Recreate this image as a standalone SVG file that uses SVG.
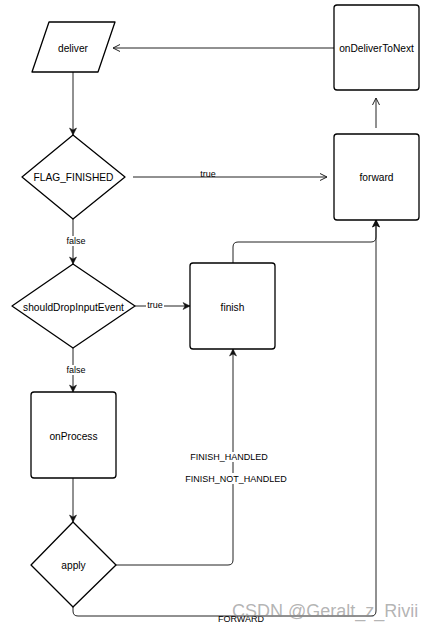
<svg xmlns="http://www.w3.org/2000/svg" width="434" height="630" viewBox="0 0 434 630">
<style>
.node{fill:#fff;stroke:#000;stroke-width:1.3;stroke-linejoin:round}
.lbl{font-family:"Liberation Sans",Arial,sans-serif;font-size:10.2px;fill:#000;text-anchor:middle;dominant-baseline:central}
.elbl{font-family:"Liberation Sans",Arial,sans-serif;font-size:9px;fill:#000;text-anchor:middle;dominant-baseline:central}
.edge{fill:none;stroke:#222;stroke-width:1}
.bg{fill:#fff}
</style>
<defs>
<marker id="open" markerUnits="userSpaceOnUse" markerWidth="10" markerHeight="10" refX="8" refY="4" orient="auto" overflow="visible">
<path d="M1,0.5 L8,4 L1,7.5" fill="none" stroke="#222" stroke-width="1"/>
</marker>
<marker id="block" markerUnits="userSpaceOnUse" markerWidth="10" markerHeight="10" refX="7" refY="3.5" orient="auto" overflow="visible">
<path d="M0,0 L7,3.5 L0,7 L2,3.5 Z" fill="#111" stroke="#111" stroke-width="0.5"/>
</marker>
</defs>
<rect width="434" height="630" fill="#fff"/>
<g id="connectors">
<path class="edge" d="M73,72 L73,135" marker-end="url(#block)"/>
<path class="edge" d="M334,48 L113,48" marker-end="url(#open)"/>
<path class="edge" d="M376,128 L376,98" marker-end="url(#open)"/>
<path class="edge" d="M133,177 L327,177" marker-end="url(#open)"/>
<text class="elbl" x="208" y="174">true</text>
<path class="edge" d="M73,219 L73,264" marker-end="url(#block)"/>
<rect class="bg" x="65" y="236" width="20" height="10"/>
<text class="elbl" x="76" y="241">false</text>
<path class="edge" d="M135,306 L190,306" marker-end="url(#block)"/>
<rect class="bg" x="146" y="301" width="18" height="9"/>
<text class="elbl" x="155" y="305">true</text>
<path class="edge" d="M73,348 L73,392" marker-end="url(#block)"/>
<rect class="bg" x="65" y="365" width="20" height="10"/>
<text class="elbl" x="76" y="370">false</text>
<path class="edge" d="M233,263 L233,247 Q233,242 238,242 L371,242 Q376,242 376,237 L376,220" marker-end="url(#block)"/>
<path class="edge" d="M73,478 L73,522" marker-end="url(#block)"/>
<path class="edge" d="M116,565 L228,565 Q233,565 233,560 L233,349" marker-end="url(#block)"/>
<rect class="bg" x="188" y="452" width="82" height="10"/>
<text class="elbl" x="229" y="457">FINISH_HANDLED</text>
<rect class="bg" x="182" y="473" width="107" height="11"/>
<text class="elbl" x="236" y="478.5">FINISH_NOT_HANDLED</text>
<path class="edge" d="M73,607 L73,611 Q73,616 78,616 L371,616 Q376,616 376,611 L376,220" marker-end="url(#block)"/>
<text class="elbl" x="241" y="619">FORWARD</text>
</g>
<g id="node-deliver">
<path class="node" d="M49,22 L115,22 L98,72 L32,72 Z"/>
<text class="lbl" x="73" y="48">deliver</text>
</g>
<g id="node-onDeliverToNext">
<rect class="node" x="334" y="5" width="85" height="85" rx="3"/>
<text class="lbl" x="376.5" y="48">onDeliverToNext</text>
</g>
<g id="node-FLAG_FINISHED">
<path class="node" d="M73,135 L125,177 L73,219 L22,177 Z"/>
<text class="lbl" x="73.5" y="177">FLAG_FINISHED</text>
</g>
<g id="node-forward">
<rect class="node" x="334" y="134" width="85" height="86" rx="3"/>
<text class="lbl" x="376.5" y="177">forward</text>
</g>
<g id="node-shouldDropInputEvent">
<path class="node" d="M73,264 L135,306 L73,348 L12,306 Z"/>
<text class="lbl" x="73.5" y="307">shouldDropInputEvent</text>
</g>
<g id="node-finish">
<rect class="node" x="190" y="263" width="85" height="86" rx="3"/>
<text class="lbl" x="232.5" y="307">finish</text>
</g>
<g id="node-onProcess">
<rect class="node" x="31" y="392" width="85" height="86" rx="3"/>
<text class="lbl" x="73.5" y="436">onProcess</text>
</g>
<g id="node-apply">
<path class="node" d="M73,522 L116,565 L73,607 L31,565 Z"/>
<text class="lbl" x="73.5" y="565">apply</text>
</g>
<text x="232" y="617" font-family="Liberation Sans, Arial, sans-serif" font-size="18" fill="#8a8a8a" fill-opacity="0.65">CSDN @Geralt_z_Rivii</text>
</svg>
